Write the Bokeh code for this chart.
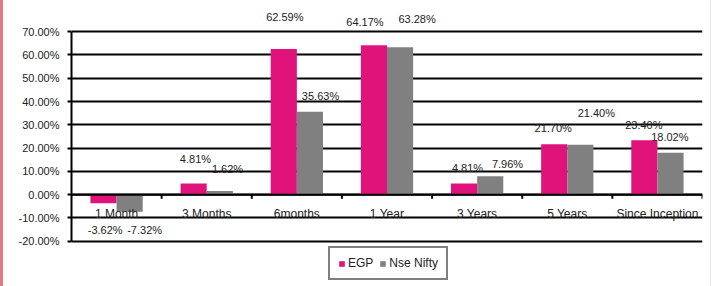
from bokeh.plotting import figure
from bokeh.models import (ColumnDataSource, LabelSet, Range1d, FixedTicker, Legend, LegendItem,
                          Span, PrintfTickFormatter)
from bokeh.core.properties import value
from bokeh.embed import file_html
from bokeh.resources import INLINE

categories = ["1 Month", "3 Months", "6months", "1 Year", "3 Years", "5 Years", "Since Inception"]
egp = [-3.62, 4.81, 62.59, 64.17, 4.81, 21.70, 23.40]
nifty = [-7.32, 1.62, 35.63, 63.28, 7.96, 21.40, 18.02]
y_ticks = [-20, -10, 0, 10, 20, 30, 40, 50, 60, 70]

# pixel nudges for the value labels (style only)
egp_dx = [1.7, 1.8, 1, -9, 3.4, -1, -0.5]
egp_dy = [-27, 24.8, 32, 23, 15.5, 16.5, 15.4]
nifty_dx = [15, 7.7, 10.6, 17, 17.3, 16, -0.7]
nifty_dy = [-18.3, 22, 15.7, 28, 12, 31.6, 15.5]

PINK = "#E0137A"
GRAY = "#808080"
TXT = "#222222"
FONT = "Liberation Sans"
BAR_W = 0.29
PX_PER_UNIT = 2.329
FRAME_W = 631
FRAME_TOP_PX, ZERO_PX, FRAME_BOT_PX = 8, 194.2, 282
Y1 = (ZERO_PX - FRAME_TOP_PX) / PX_PER_UNIT
Y0 = -(FRAME_BOT_PX - ZERO_PX) / PX_PER_UNIT
TICK_PX = 4

n = len(categories)
centers = [i + 0.5 for i in range(n)]
boundaries = list(range(1, n + 1))
ux = n / FRAME_W
uy = 1 / PX_PER_UNIT

p = figure(width=711, height=286, x_range=Range1d(0, n), y_range=Range1d(Y0, Y1),
           output_backend="svg", toolbar_location=None,
           min_border_left=68, min_border_right=12, min_border_top=FRAME_TOP_PX,
           min_border_bottom=286 - FRAME_BOT_PX)
p.outline_line_color = None
p.background_fill_color = "white"
p.border_fill_color = "white"
p.styles = {"border-left": "3px solid #E27B7B", "border-right": "1px solid #E6E6E6"}

xe = [c - BAR_W / 2 for c in centers]
xn = [c + BAR_W / 2 for c in centers]
src_e = ColumnDataSource(dict(x=xe, top=egp))
src_n = ColumnDataSource(dict(x=xn, top=nifty))

# grid
p.xgrid.visible = False
p.ygrid.ticker = FixedTicker(ticks=y_ticks)
p.ygrid.grid_line_color = "black"
p.ygrid.grid_line_width = 2

r_e = p.vbar(x="x", top="top", bottom=0, width=BAR_W, source=src_e, fill_color=PINK, line_color=None)
r_n = p.vbar(x="x", top="top", bottom=0, width=BAR_W, source=src_n, fill_color=GRAY, line_color=None)

# y axis
ya = p.yaxis[0]
ya.ticker = FixedTicker(ticks=y_ticks)
ya.bounds = (min(y_ticks), max(y_ticks))
ya.formatter = PrintfTickFormatter(format="%.2f%%")
ya.axis_line_width = 2
ya.axis_line_color = "black"
ya.major_tick_line_width = 2
ya.major_tick_in = 0
ya.major_tick_out = 4
ya.minor_tick_line_color = None
ya.major_label_standoff = 8
ya.major_label_text_font = FONT
ya.major_label_text_font_size = "11px"
ya.major_label_text_color = TXT

# x axis drawn at zero, with ticks between categories
p.xaxis.visible = False
p.add_layout(Span(location=0, dimension="width", line_color="black", line_width=2))
p.segment(x0=boundaries, y0=[0] * n, x1=boundaries, y1=[-TICK_PX * uy] * n,
          line_color="black", line_width=2)

# category labels
src_c = ColumnDataSource(dict(x=centers, y=[-12 * uy] * n, text=categories))
p.add_layout(LabelSet(x="x", y="y", text="text", source=src_c,
                      text_align="center", text_baseline="top", text_font=value(FONT),
                      text_font_size=value("12px"), text_color=TXT))

# value labels
lab_e = ColumnDataSource(dict(x=[x + d * ux for x, d in zip(xe, egp_dx)],
                              y=[v + d * uy for v, d in zip(egp, egp_dy)],
                              text=[f"{v:.2f}%" for v in egp]))
lab_n = ColumnDataSource(dict(x=[x + d * ux for x, d in zip(xn, nifty_dx)],
                              y=[v + d * uy for v, d in zip(nifty, nifty_dy)],
                              text=[f"{v:.2f}%" for v in nifty]))
for src in (lab_e, lab_n):
    p.add_layout(LabelSet(x="x", y="y", text="text", source=src,
                          text_align="center", text_baseline="middle", text_font=value(FONT),
                          text_font_size=value("11px"), text_color=TXT))

legend = Legend(items=[LegendItem(label="EGP", renderers=[r_e]),
                       LegendItem(label="Nse Nifty", renderers=[r_n])],
                orientation="horizontal", location=(257, 2),
                glyph_width=7, glyph_height=7, label_standoff=3, spacing=6, padding=8,
                label_height=12, label_text_font=FONT, label_text_font_size="12px",
                label_text_color=TXT, border_line_color="black", border_line_width=2,
                margin=0, background_fill_alpha=1)
p.add_layout(legend)

open("out.html", "w").write(file_html(p, INLINE))
